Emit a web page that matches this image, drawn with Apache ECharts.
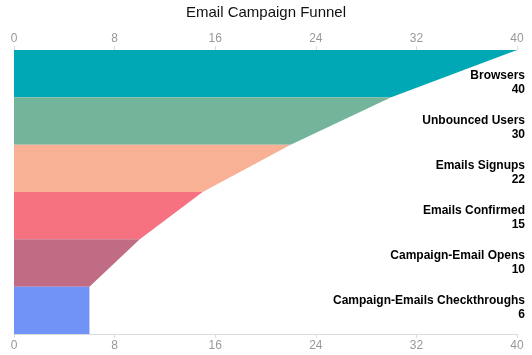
<!DOCTYPE html>
<html>
<head>
<meta charset="utf-8">
<script src="https://cdn.jsdelivr.net/npm/echarts@6/dist/echarts.min.js"></script>
<style>
  html, body { margin: 0; padding: 0; background: #fff; }
  #chart { width: 532px; height: 355px; }
</style>
</head>
<body>
<div id="chart"></div>
<script>
var categories = ['Browsers', 'Unbounced Users', 'Emails Signups', 'Emails Confirmed', 'Campaign-Email Opens', 'Campaign-Emails Checkthroughs'];
var values = [40, 30, 22, 15, 10, 6];
var colors = ['#00A8B5', '#74B49B', '#F8B195', '#F67280', '#C06C84', '#7193F7'];
var xTicks = [0, 8, 16, 24, 32, 40];

var chart = echarts.init(document.getElementById('chart'), null, { renderer: 'canvas' });
var font = 'Arial, "Liberation Sans", sans-serif';

var bandData = values.map(function (v, i) {
  var next = i < values.length - 1 ? values[i + 1] : v;
  return [i, v, next];
});
var labelData = values.map(function (v, i) { return [i, v]; });

var axisCommon = {
  type: 'value',
  min: xTicks[0],
  max: xTicks[xTicks.length - 1],
  interval: xTicks[1] - xTicks[0],
  axisLine: { show: true, lineStyle: { color: '#dcdcdc', width: 1 } },
  axisTick: { show: true, length: 4, lineStyle: { color: '#dcdcdc' } },
  axisLabel: { color: '#999', fontSize: 12, fontFamily: font, margin: 5 },
  splitLine: { show: false }
};

chart.setOption({
  animation: false,
  title: {
    text: 'Email Campaign Funnel',
    left: 'center',
    top: 0,
    textStyle: { color: '#111', fontSize: 15, fontWeight: 'normal', fontFamily: font }
  },
  grid: [
    { left: 14, right: 15, top: 50, bottom: 21 },
    { left: 14, right: 7, top: 60, bottom: 25 }
  ],
  xAxis: [
    Object.assign({}, axisCommon, { gridIndex: 0, position: 'top' }),
    Object.assign({}, axisCommon, { gridIndex: 0, position: 'bottom',
      axisLabel: { color: '#999', fontSize: 12, fontFamily: font, margin: 6 } }),
    { type: 'value', gridIndex: 1, min: 0, max: 40, show: false }
  ],
  yAxis: [
    { type: 'category', gridIndex: 0, data: categories, inverse: true, show: false },
    { type: 'category', gridIndex: 1, data: categories, inverse: true, show: false }
  ],
  series: [
    {
      type: 'custom',
      xAxisIndex: 0,
      yAxisIndex: 0,
      data: bandData,
      renderItem: function (params, api) {
        var i = api.value(0);
        var top = api.value(1);
        var bottom = api.value(2);
        var c = api.coord([0, i]);
        var h = api.size([0, 1])[1];
        var y0 = c[1] - h / 2;
        var y1 = c[1] + h / 2;
        var x0 = c[0];
        var xTop = api.coord([top, i])[0];
        var xBot = api.coord([bottom, i])[0];
        return {
          type: 'polygon',
          shape: { points: [[x0, y0], [xTop, y0], [xBot, y1], [x0, y1]] },
          style: { fill: colors[i] }
        };
      }
    },
    {
      type: 'custom',
      xAxisIndex: 2,
      yAxisIndex: 1,
      data: labelData,
      z: 5,
      renderItem: function (params, api) {
        var i = api.value(0);
        var c = api.coord([40, i]);
        return {
          type: 'text',
          x: c[0],
          y: c[1],
          style: {
            text: categories[i] + '\n' + api.value(1),
            align: 'right',
            verticalAlign: 'middle',
            fill: '#000',
            font: 'bold 12px ' + font,
            lineHeight: 14
          }
        };
      }
    }
  ]
});
</script>
</body>
</html>
